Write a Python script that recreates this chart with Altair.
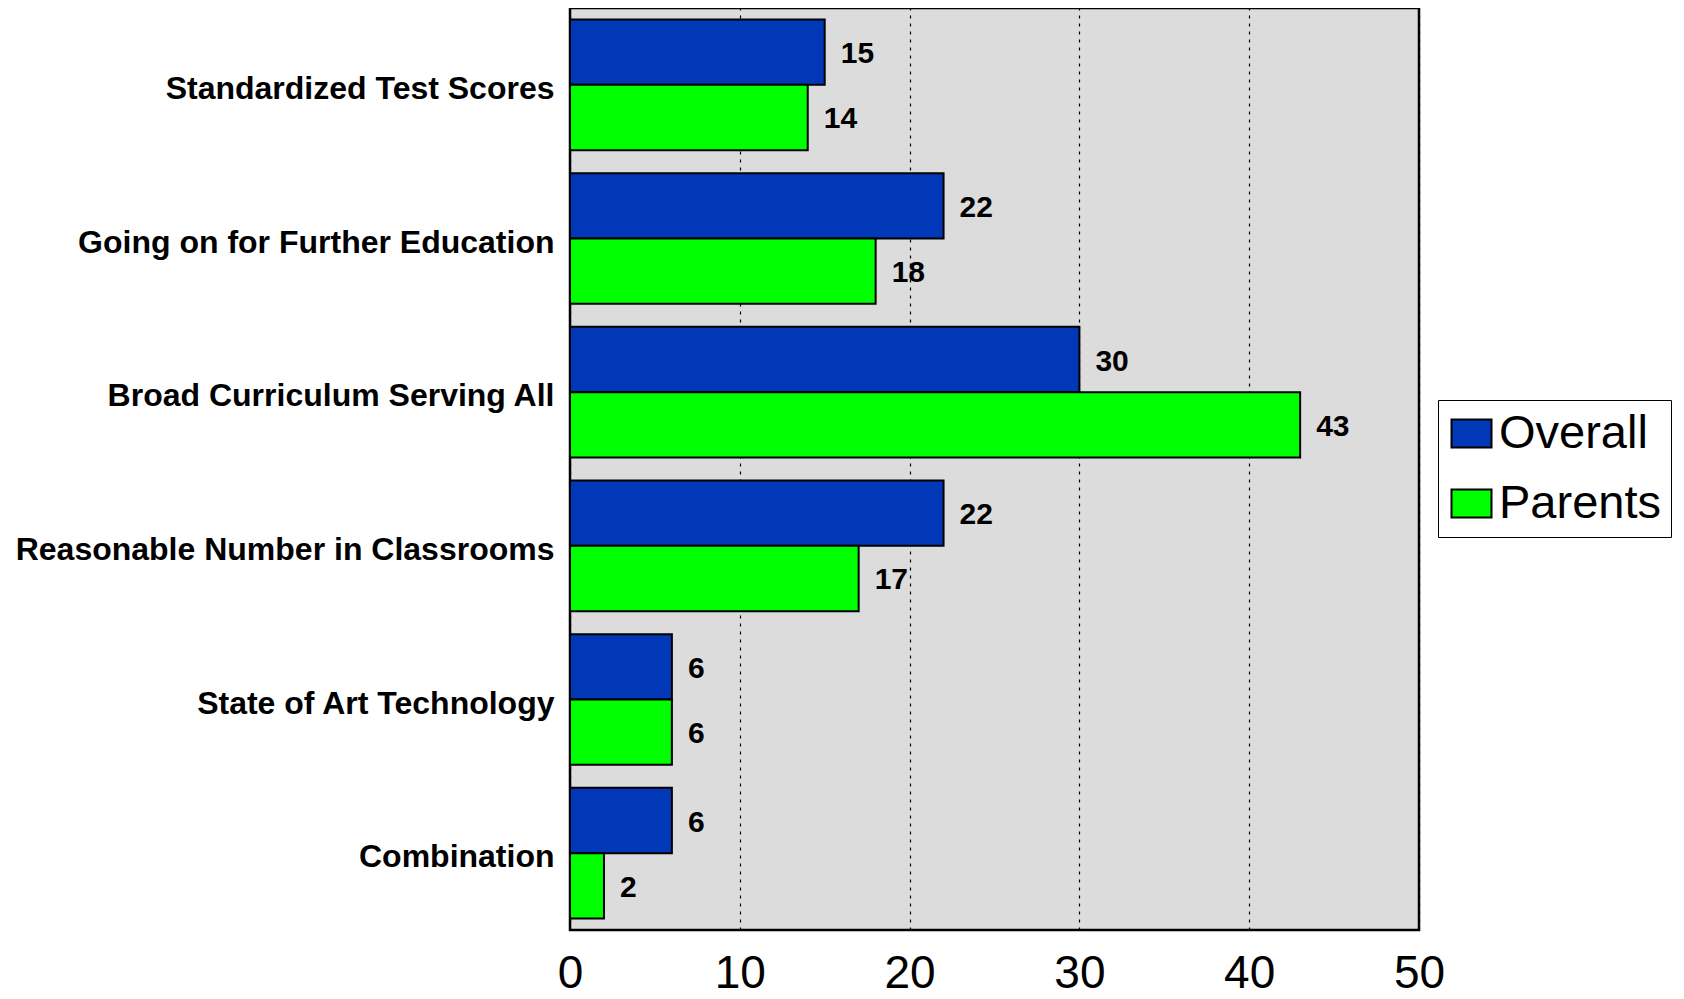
import altair as alt
import pandas as pd

categories = [
    "Standardized Test Scores",
    "Going on for Further Education",
    "Broad Curriculum Serving All",
    "Reasonable Number in Classrooms",
    "State of Art Technology",
    "Combination",
]
overall = [15, 22, 30, 22, 6, 6]
parents = [14, 18, 43, 17, 6, 2]
series = ["Overall", "Parents"]
colors = ["#0038b8", "#00ff00"]
x_ticks = [0, 10, 20, 30, 40, 50]

rows = []
for c, o, p in zip(categories, overall, parents):
    rows.append({"category": c, "series": "Overall", "value": o})
    rows.append({"category": c, "series": "Parents", "value": p})
df = pd.DataFrame(rows)

y_enc = alt.Y(
    "category:N",
    sort=categories,
    scale=alt.Scale(paddingInner=0.15, paddingOuter=0.075),
    axis=alt.Axis(
        title=None, ticks=False, domain=False, labelFontSize=32,
        labelFontWeight="bold", labelFont="Liberation Sans", labelColor="black",
        labelPadding=16, labelLimit=800, labelOffset=4,
    ),
)
x_enc = alt.X(
    "value:Q",
    scale=alt.Scale(domain=[0, 50], nice=False),
    axis=alt.Axis(
        title=None, values=x_ticks, ticks=False, domain=False,
        labelFontSize=46, labelFont="Liberation Sans Narrow, Liberation Sans",
        labelColor="black", labelPadding=21,
        grid=True, gridColor="black", gridDash=[3, 5], gridWidth=1.2,
        labelFlush=False,
    ),
)
yoff = alt.YOffset("series:N", sort=series, scale=alt.Scale(paddingInner=0, paddingOuter=0))

bars = alt.Chart(df).mark_bar(stroke="black", strokeWidth=2).encode(
    y=y_enc,
    x=x_enc,
    yOffset=yoff,
    color=alt.Color(
        "series:N",
        sort=series,
        scale=alt.Scale(domain=series, range=colors),
        legend=alt.Legend(
            title=None, orient="none", legendX=868, legendY=392,
            labelFontSize=47, labelFont="Liberation Sans", labelColor="black",
            labelLimit=400,
            symbolType="M-1,-0.7L1,-0.7L1,0.7L-1,0.7Z", symbolSize=1600,
            symbolStrokeColor="black", symbolStrokeWidth=2, symbolOpacity=1,
            strokeColor="black", fillColor="white", padding=10,
            rowPadding=22, labelOffset=4, cornerRadius=0,
        ),
    ),
)

labels = alt.Chart(df).mark_text(
    align="left", baseline="middle", dx=16, dy=2, fontSize=30, fontWeight="bold",
    font="Liberation Sans", color="black",
).encode(
    y=alt.Y("category:N", sort=categories),
    x=alt.X("value:Q"),
    yOffset=yoff,
    text="value:Q",
)

chart = (
    alt.layer(bars, labels)
    .properties(
        width=849, height=922,
        autosize=alt.AutoSizeParams(type="none"),
        padding={"left": 562, "top": 0, "right": 256, "bottom": 68},
        background="white",
    )
    .configure_view(fill="#dcdcdc", stroke="black", strokeWidth=2.5)
)

chart.save("out.html", embed_options={"renderer": "svg", "actions": False})
